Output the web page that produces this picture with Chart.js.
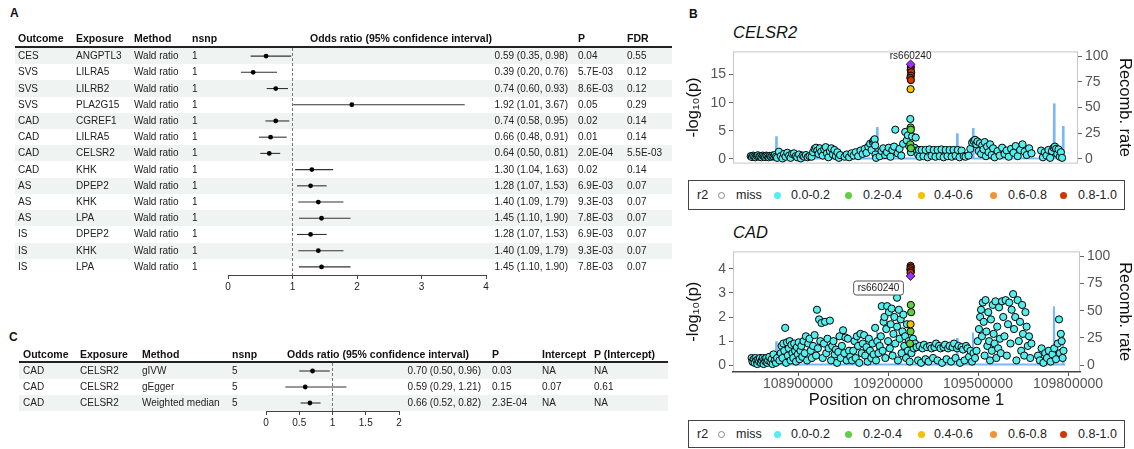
<!DOCTYPE html>
<html>
<head>
<meta charset="utf-8">
<title>MR results and regional association at CELSR2</title>
<script src="https://cdn.jsdelivr.net/npm/chart.js@4.4.1/dist/chart.umd.min.js"></script>
<style>
  html, body { margin: 0; padding: 0; background: #fff; }
  body { position: relative; width: 1134px; height: 449px; overflow: hidden;
         font-family: "Liberation Sans", Arial, sans-serif; color: #222; }
  canvas { position: absolute; z-index: 1; }
  .t { position: absolute; z-index: 2; font-size: 10px; line-height: 14px; white-space: nowrap; }
  .hd { font-weight: bold; font-size: 10.5px; color: #111; }
  .shade { position: absolute; z-index: 0; background: #eff3f2; }
  .rule { position: absolute; z-index: 2; height: 2px; background: #222; }
  .tag { position: absolute; font-weight: bold; font-size: 12px; line-height: 14px; color: #111; }
  .gene { position: absolute; font-style: italic; font-size: 16.5px; line-height: 20px; color: #111; }
  .legend { position: absolute; left: 688px; width: 437px; border: 1px solid #444; box-sizing: border-box; }
  .legend span { position: absolute; font-size: 12.5px; line-height: 14px; color: #222; white-space: nowrap; }
  .legend i { position: absolute; width: 7px; height: 7px; border-radius: 50%; box-sizing: border-box; }
</style>
</head>
<body>
<div class="tag" style="left:10px;top:6px">A</div>
<div class="tag" style="left:689px;top:7px">B</div>
<div class="tag" style="left:9px;top:330px">C</div>
<div class="gene" style="left:733px;top:22px">CELSR2</div>
<div class="gene" style="left:733px;top:222px">CAD</div>

<script>
// ---- Panel A: single-SNP Wald ratio estimates ----
const outcomeA  = ['CES', 'SVS', 'SVS', 'SVS', 'CAD', 'CAD', 'CAD', 'CAD', 'AS', 'AS', 'AS', 'IS', 'IS', 'IS'];
const exposureA = ['ANGPTL3', 'LILRA5', 'LILRB2', 'PLA2G15', 'CGREF1', 'LILRA5', 'CELSR2', 'KHK', 'DPEP2', 'KHK', 'LPA', 'DPEP2', 'KHK', 'LPA'];
const methodA   = outcomeA.map(() => 'Wald ratio');
const nsnpA     = outcomeA.map(() => 1);
const orA  = [0.59, 0.39, 0.74, 1.92, 0.74, 0.66, 0.64, 1.30, 1.28, 1.40, 1.45, 1.28, 1.40, 1.45];
const loA  = [0.35, 0.20, 0.60, 1.01, 0.58, 0.48, 0.50, 1.04, 1.07, 1.09, 1.10, 1.07, 1.09, 1.10];
const hiA  = [0.98, 0.76, 0.93, 3.67, 0.95, 0.91, 0.81, 1.63, 1.53, 1.79, 1.90, 1.53, 1.79, 1.90];
const pA   = ['0.04', '5.7E-03', '8.6E-03', '0.05', '0.02', '0.01', '2.0E-04', '0.02', '6.9E-03', '9.3E-03', '7.8E-03', '6.9E-03', '9.3E-03', '7.8E-03'];
const fdrA = ['0.55', '0.12', '0.12', '0.29', '0.14', '0.14', '5.5E-03', '0.14', '0.07', '0.07', '0.07', '0.07', '0.07', '0.07'];
const forestTicksA = [0, 1, 2, 3, 4];

// ---- Panel C: multi-SNP CELSR2 -> CAD ----
const outcomeC   = ['CAD', 'CAD', 'CAD'];
const exposureC  = ['CELSR2', 'CELSR2', 'CELSR2'];
const methodC    = ['gIVW', 'gEgger', 'Weighted median'];
const nsnpC      = [5, 5, 5];
const orC        = [0.70, 0.59, 0.66];
const loC        = [0.50, 0.29, 0.52];
const hiC        = [0.96, 1.21, 0.82];
const pC         = ['0.03', '0.15', '2.3E-04'];
const interceptC = ['NA', '0.07', 'NA'];
const pInterceptC = ['NA', '0.61', 'NA'];
const forestTicksC = [0, 0.5, 1, 1.5, 2];

// ---- Panel B: regional plots, positions in kb on chr1 ----
const posTicks = [108900, 109200, 109500, 109800];
const celsr2LogpTicks = [0, 5, 10, 15];
const cadLogpTicks = [0, 1, 2, 3, 4];
const recombTicks = [0, 25, 50, 75, 100];
const leadSnp = 'rs660240';
const leadPos = 109275;

const recombRate = [
  [108740, 0.4], [108826, 0.6], [108827, 22], [108829, 0.5], [109162, 0.8], [109163, 31], [109165, 0.6],
  [109429, 0.5], [109430, 25], [109432, 0.7], [109482, 0.6], [109483, 30], [109485, 0.5],
  [109752, 0.8], [109753, 54], [109755, 0.6], [109782, 0.7], [109783, 32], [109785, 0.5], [109790, 0.4]
];

const celsr2Lead = [[leadPos, 16.8]];
const celsr2Red = [[109276, 16.3], [109275, 15.8], [109277, 15.4], [109276, 14.8], [109274, 14.4], [109276, 14.0]];
const celsr2Yellow = [[109275, 12.4]];
const celsr2Green = [[109275, 5.6], [109276, 5.2], [109274, 2.6], [109276, 1.9]];
const celsr2Cyan = [
  [108742, 0.5], [108746, 0.35], [108750, 0.6], [108754, 0.45], [108758, 0.3], [108762, 0.55], [108766, 0.65],
  [108770, 0.4], [108774, 0.5], [108778, 0.3], [108782, 0.6], [108786, 0.45], [108790, 0.35], [108794, 0.6],
  [108798, 0.5], [108802, 0.3], [108806, 0.55], [108810, 0.4], [108814, 0.6], [108818, 0.45], [108822, 0.7], [108826, 0.4],
  [108830, 0.2], [108836, 1.3], [108842, 0.5], [108848, 0.1], [108853, 0.9], [108858, 0.4], [108864, 1.1], [108870, 0.6],
  [108875, 0.2], [108880, 0.9], [108886, 1.0], [108892, 0.5], [108897, 0.3], [108903, 0.8], [108909, 0.1], [108915, 0.6],
  [108920, 0.4], [108926, 0.7], [108932, 0.3], [108938, 0.5],
  [108945, 0.4], [108950, 1.2], [108955, 1.8], [108960, 2.0], [108964, 1.5], [108968, 0.9], [108972, 1.9], [108977, 1.3],
  [108982, 0.6], [108987, 1.7], [108992, 2.1], [108996, 1.0], [109001, 0.3], [109006, 1.4], [109011, 1.9], [109016, 0.8],
  [109021, 1.6], [109026, 0.5], [109031, 1.2], [109036, 0.2], [109040, 0.7],
  [109055, 0.4], [109062, 0.8], [109070, 0.3], [109078, 1.0], [109085, 0.6], [109092, 1.2], [109100, 0.5], [109108, 1.5],
  [109115, 0.9], [109122, 1.8], [109128, 1.1], [109134, 2.2], [109140, 2.7], [109145, 1.6], [109149, 3.0], [109152, 3.3],
  [109155, 3.5], [109157, 2.4], [109158, 0.8], [109160, 0.2],
  [109172, 0.5], [109178, 1.4], [109184, 1.9], [109190, 0.7], [109196, 1.2], [109202, 2.0], [109208, 0.4], [109214, 1.6],
  [109220, 2.2], [109224, 5.2], [109232, 1.0], [109238, 1.8], [109244, 0.6], [109250, 2.7], [109257, 4.8], [109262, 3.3],
  [109266, 4.2], [109270, 2.3], [109274, 7.1], [109276, 1.2], [109280, 4.0], [109292, 3.8], [109288, 2.0], [109296, 1.5],
  [109300, 0.8], [109303, 1.6],
  [109305, 0.4], [109312, 1.6], [109318, 0.5], [109325, 1.6], [109332, 0.3], [109338, 1.7], [109345, 0.6], [109352, 1.6],
  [109358, 0.4], [109365, 1.6], [109372, 0.5], [109378, 1.7], [109385, 0.3], [109392, 1.6], [109398, 0.5], [109405, 1.6],
  [109412, 0.4], [109418, 1.6], [109425, 0.6], [109432, 1.6], [109438, 0.3], [109445, 1.5], [109452, 0.5], [109458, 0.4],
  [109468, 0.6], [109474, 1.8], [109480, 2.9], [109485, 3.2], [109490, 3.4], [109494, 2.6], [109498, 3.1], [109502, 1.4],
  [109506, 2.8], [109510, 0.9], [109514, 2.4], [109518, 1.7], [109522, 3.0], [109526, 0.5], [109530, 2.2], [109535, 1.2],
  [109540, 2.6], [109545, 0.7], [109550, 1.9], [109555, 0.3],
  [109565, 1.4], [109572, 0.6], [109580, 2.0], [109588, 0.9], [109595, 1.5], [109602, 0.4], [109610, 1.8], [109618, 1.1],
  [109625, 2.3], [109632, 0.5], [109640, 1.6], [109648, 2.6], [109655, 1.3], [109662, 0.7], [109670, 1.9], [109678, 1.0],
  [109710, 1.5], [109716, 0.3], [109722, 1.2], [109728, 0.6], [109734, 1.6], [109740, 0.2], [109746, 1.4], [109752, 2.0],
  [109756, 2.2], [109760, 1.8], [109764, 0.9], [109768, 1.7], [109772, 0.4], [109776, 1.2], [109780, 0.2]
];

const cadLead = [[leadPos, 3.7]];
const cadRed = [[109275, 4.12], [109276, 4.05], [109274, 3.98], [109276, 3.9], [109275, 3.83]];
const cadYellow = [[109275, 1.7]];
const cadGreen = [[109276, 2.5], [109277, 2.2], [109275, 1.4], [109273, 0.9]];
const cadCyan = [
  [108745, 0.3], [108748, 0.15], [108752, 0.25], [108755, 0.1], [108758, 0.3], [108761, 0.2], [108764, 0.05], [108767, 0.25],
  [108770, 0.15], [108773, 0.3], [108776, 0.1], [108779, 0.2], [108782, 0.3], [108785, 0.05], [108788, 0.25], [108791, 0.15],
  [108794, 0.3], [108797, 0.1], [108800, 0.2], [108804, 0.35], [108808, 0.15], [108812, 0.25], [108815, 0.05], [108818, 0.45],
  [108822, 0.2], [108826, 0.1], [108830, 0.3],
  [108838, 0.2], [108842, 0.5], [108845, 0.8], [108848, 0.3], [108851, 0.9], [108854, 0.6], [108857, 1.55], [108860, 0.1],
  [108863, 0.95], [108866, 0.4], [108869, 0.7], [108872, 1.0], [108875, 0.2], [108878, 0.85], [108881, 0.5], [108884, 0.3],
  [108887, 0.9], [108890, 0.6], [108893, 0.15], [108896, 0.75], [108899, 0.45], [108902, 0.95], [108905, 0.25], [108908, 0.6],
  [108911, 0.8], [108914, 0.35],
  [108918, 1.0], [108922, 0.5], [108926, 1.2], [108930, 0.2], [108934, 0.9], [108938, 1.1], [108942, 0.6], [108946, 0.3],
  [108950, 0.8], [108955, 1.25], [108960, 0.4], [108963, 2.3], [108966, 0.7], [108970, 1.9], [108974, 1.0], [108978, 1.75],
  [108982, 0.3], [108986, 0.9], [108990, 1.8], [108994, 0.5], [108998, 1.1], [109002, 0.7], [109006, 1.85], [109010, 0.2],
  [109014, 0.8], [109018, 1.0], [109022, 0.45], [109026, 0.65], [109030, 0.1], [109034, 0.55], [109038, 1.2], [109042, 0.3],
  [109046, 0.8], [109050, 1.45], [109054, 0.5], [109058, 1.15], [109062, 0.2], [109066, 1.1], [109070, 0.6], [109074, 0.35],
  [109080, 0.2], [109084, 0.6], [109088, 1.0], [109092, 0.3], [109096, 1.2], [109100, 0.8], [109104, 0.1], [109108, 1.3],
  [109112, 0.5], [109116, 0.9], [109120, 1.25], [109124, 0.4], [109128, 0.75], [109132, 0.15], [109136, 1.1], [109140, 0.6],
  [109144, 0.3], [109148, 0.9], [109152, 0.45], [109157, 1.55], [109160, 0.2], [109164, 1.0], [109168, 0.5], [109172, 0.8],
  [109176, 1.2], [109179, 2.45], [109182, 0.6], [109185, 1.8], [109188, 2.0], [109191, 0.3], [109194, 1.5], [109197, 2.45],
  [109200, 1.0], [109203, 2.2], [109206, 0.7], [109209, 1.7], [109212, 2.35], [109215, 0.4], [109218, 1.3], [109221, 2.0],
  [109224, 0.9], [109230, 2.8], [109230, 1.6], [109233, 0.2], [109236, 2.3], [109239, 1.1], [109242, 1.9], [109245, 0.5],
  [109248, 1.4], [109251, 2.1], [109254, 0.8], [109257, 1.2], [109260, 0.3], [109263, 1.7], [109266, 0.6], [109269, 1.0],
  [109272, 0.15], [109278, 0.5], [109283, 1.1], [109286, 0.7], [109290, 0.9],
  [109295, 0.75], [109300, 0.2], [109305, 0.8], [109310, 0.1], [109315, 0.7], [109320, 0.85], [109325, 0.25], [109330, 0.75],
  [109335, 0.15], [109340, 0.8], [109345, 0.7], [109350, 0.3], [109355, 0.75], [109360, 0.9], [109365, 0.2], [109370, 0.8],
  [109375, 0.7], [109380, 0.1], [109385, 0.75], [109390, 0.85], [109395, 0.25], [109400, 0.7], [109405, 0.8], [109410, 0.15],
  [109415, 0.75], [109420, 0.9], [109425, 0.3], [109430, 0.7], [109435, 0.8], [109440, 0.1], [109445, 0.75], [109450, 0.65],
  [109455, 0.2], [109460, 0.8], [109465, 0.7], [109470, 0.35], [109475, 0.6], [109480, 0.15], [109485, 0.5], [109490, 0.3],
  [109495, 0.6], [109499, 1.0], [109503, 1.5], [109507, 2.0], [109510, 2.3], [109513, 1.2], [109516, 2.6], [109519, 1.8],
  [109522, 0.4], [109525, 2.7], [109528, 1.4], [109531, 0.8], [109534, 2.2], [109537, 1.0], [109540, 0.2], [109543, 1.9],
  [109546, 0.6], [109549, 2.5], [109552, 1.3], [109555, 0.9], [109558, 2.65], [109561, 0.3], [109564, 1.6], [109567, 0.7],
  [109570, 2.4], [109573, 1.1], [109576, 0.5],
  [109580, 2.65], [109584, 2.0], [109588, 1.2], [109592, 2.7], [109596, 0.4], [109600, 1.7], [109604, 2.6], [109608, 0.9],
  [109612, 2.3], [109617, 2.95], [109620, 1.5], [109624, 2.0], [109628, 0.2], [109632, 2.7], [109636, 1.0], [109640, 1.8],
  [109644, 0.6], [109647, 2.5], [109650, 1.3], [109654, 0.4], [109658, 2.2], [109662, 1.6], [109666, 0.8], [109670, 1.2],
  [109674, 0.3], [109678, 0.9],
  [109700, 0.4], [109706, 0.2], [109712, 0.7], [109718, 0.1], [109724, 0.5], [109730, 0.3], [109736, 0.6], [109742, 0.15],
  [109748, 0.45], [109754, 0.7], [109760, 0.25], [109766, 0.9], [109770, 1.9], [109773, 0.5], [109776, 1.3], [109779, 1.0],
  [109782, 0.3], [109785, 0.6]
];

// LD legend
const ldLabels = ['miss', '0.0-0.2', '0.2-0.4', '0.4-0.6', '0.6-0.8', '0.8-1.0'];
const ldColors = [null, '#55eeee', '#5fd040', '#f7c100', '#f39234', '#cd3700'];
const leadColor = '#9b30ff';

const FONT = '"Liberation Sans", Arial, sans-serif';
Chart.defaults.font.family = FONT;

function addDiv(cls, text, left, top) {
  const d = document.createElement('div');
  d.className = cls;
  if (text !== null) d.textContent = text;
  d.style.left = left + 'px';
  d.style.top = top + 'px';
  document.body.appendChild(d);
  return d;
}

function addCell(text, x, cy, bold, right) {
  const d = addDiv('t' + (bold ? ' hd' : ''), text, right ? x - 220 : x, cy - 7);
  if (right) { d.style.width = '220px'; d.style.textAlign = 'right'; }
}

function makeCanvas(x, y, w, h) {
  const cv = document.createElement('canvas');
  cv.width = w; cv.height = h;
  cv.style.left = x + 'px'; cv.style.top = y + 'px';
  document.body.appendChild(cv);
  return cv;
}

/**
 * Forest table: row shading + text cells in HTML, CI and estimates in Chart.js
 */
function drawForest(o) {
  const n = o.est.length;
  const cv = makeCanvas(o.x, o.y, o.w, o.h);

  const ciSets = o.est.map((_, i) => ({
    data: [{ x: o.lo[i], y: i }, { x: o.hi[i], y: i }],
    showLine: true, borderColor: '#333', borderWidth: 1.1, pointRadius: 0
  }));

  const chart = new Chart(cv, {
    type: 'scatter',
    data: {
      datasets: [
        { data: o.est.map((v, i) => ({ x: v, y: i })), pointStyle: 'circle', pointRadius: 2.4,
          backgroundColor: '#000', borderWidth: 0 },
        ...ciSets,
        { data: [{ x: 1, y: -0.5 }, { x: 1, y: n - 0.5 }], showLine: true, borderColor: '#777',
          borderWidth: 1, borderDash: [3, 2], pointRadius: 0 }
      ]
    },
    options: {
      responsive: false, animation: false, events: [],
      layout: { padding: { left: o.padL, right: o.padR, top: o.padT, bottom: 0 } },
      plugins: { legend: { display: false }, tooltip: { enabled: false } },
      scales: {
        x: {
          type: 'linear', min: o.min, max: o.max,
          afterBuildTicks: s => { s.ticks = o.ticks.map(v => ({ value: v })); },
          afterFit: s => { s.height = 20; },
          grid: { drawOnChartArea: false, drawTicks: true, tickLength: 4, color: '#444' },
          border: { display: true, color: '#444' },
          ticks: { color: '#222', font: { size: 10 }, padding: 2, maxRotation: 0, callback: v => String(v) }
        },
        y: { type: 'linear', display: false, reverse: true, min: -0.5, max: n - 0.5 }
      }
    }
  });

  const ys = chart.scales.y;
  const rowH = Math.abs(ys.getPixelForValue(1) - ys.getPixelForValue(0));
  for (let i = 0; i < n; i++) {
    const cy = o.y + ys.getPixelForValue(i);
    if (i % 2 === 0) {
      const s = addDiv('shade', null, o.shadeL, cy - rowH / 2);
      s.style.width = (o.shadeR - o.shadeL) + 'px';
      s.style.height = rowH + 'px';
    }
    o.cols.forEach(c => addCell(String(c.vals[i]), c.x, cy, false, c.right));
  }
  o.cols.forEach(c => { if (c.head) addCell(c.head, c.x, o.headY, true, false); });
  addCell('Odds ratio (95% confidence interval)', o.orHeadX, o.headY, true, false);
  const r = addDiv('rule', null, o.shadeL, o.ruleY - 1);
  r.style.width = (o.shadeR - o.shadeL) + 'px';
}

const orText = (est, lo, hi) => est.map((v, i) => `${v.toFixed(2)} (${lo[i].toFixed(2)}, ${hi[i].toFixed(2)})`);

drawForest({
  x: 0, y: 0, w: 680, h: 295, padL: 228, padR: 194, padT: 48,
  min: 0, max: 4, ticks: forestTicksA, est: orA, lo: loA, hi: hiA,
  shadeL: 15, shadeR: 672, headY: 38, ruleY: 47, orHeadX: 310,
  cols: [
    { x: 18, head: 'Outcome', vals: outcomeA },
    { x: 76, head: 'Exposure', vals: exposureA },
    { x: 134, head: 'Method', vals: methodA },
    { x: 192, head: 'nsnp', vals: nsnpA },
    { x: 568, right: true, vals: orText(orA, loA, hiA) },
    { x: 578, head: 'P', vals: pA },
    { x: 627, head: 'FDR', vals: fdrA }
  ]
});

drawForest({
  x: 0, y: 315, w: 680, h: 116, padL: 266, padR: 281, padT: 48,
  min: 0, max: 2, ticks: forestTicksC, est: orC, lo: loC, hi: hiC,
  shadeL: 19, shadeR: 668, headY: 354, ruleY: 362, orHeadX: 287,
  cols: [
    { x: 23, head: 'Outcome', vals: outcomeC },
    { x: 80, head: 'Exposure', vals: exposureC },
    { x: 142, head: 'Method', vals: methodC },
    { x: 232, head: 'nsnp', vals: nsnpC },
    { x: 481, right: true, vals: orText(orC, loC, hiC) },
    { x: 492, head: 'P', vals: pC },
    { x: 542, head: 'Intercept', vals: interceptC },
    { x: 594, head: 'P (Intercept)', vals: pInterceptC }
  ]
});

// light panel border, drawn before the axes so the x axis line sits on top
const panelBox = {
  id: 'panelBox',
  beforeDraw(chart) {
    const a = chart.chartArea, c = chart.ctx;
    c.save();
    c.strokeStyle = '#c6c6c6'; c.lineWidth = 1;
    c.strokeRect(a.left + 0.5, a.top + 0.5, a.width - 1, a.height - 1);
    c.restore();
  }
};

const leadLabel = {
  id: 'leadLabel',
  afterDatasetsDraw(chart, args, o) {
    const px = chart.scales.x.getPixelForValue(o.pos) + o.dx;
    const py = chart.scales.y.getPixelForValue(o.val) + o.dy;
    const c = chart.ctx;
    c.save();
    c.font = '10px ' + FONT;
    c.textAlign = 'center'; c.textBaseline = 'middle';
    if (o.boxed) {
      const tw = c.measureText(o.text).width;
      c.beginPath();
      c.roundRect(px - tw / 2 - 4, py - 7, tw + 8, 14, 2.5);
      c.fillStyle = '#fff'; c.fill();
      c.strokeStyle = '#555'; c.lineWidth = 1; c.stroke();
    }
    c.fillStyle = '#222';
    c.fillText(o.text, px, py);
    c.restore();
  }
};

function drawLocus(o) {
  const cv = makeCanvas(680, o.top, 454, o.h);
  const pts = a => a.map(p => ({ x: p[0], y: p[1] }));
  const snp = (data, color, extra) => Object.assign({
    data: pts(data), backgroundColor: color, borderColor: '#000', borderWidth: 1,
    pointRadius: 3.6, yAxisID: 'y'
  }, extra);

  new Chart(cv, {
    type: 'scatter',
    data: {
      datasets: [
        snp(o.lead, leadColor, { pointStyle: 'rectRot', pointRadius: 4.4, borderWidth: 0.8, order: 0 }),
        snp(o.red, ldColors[5], { order: 1 }),
        snp(o.yellow, ldColors[3], { order: 2 }),
        snp(o.green, ldColors[2], { order: 3 }),
        snp(o.cyan, ldColors[1], { order: 4 }),
        { data: pts(recombRate), yAxisID: 'y2', showLine: true, borderColor: 'rgba(100,170,245,0.85)',
          borderWidth: 2, pointRadius: 0, order: 5 }
      ]
    },
    options: {
      responsive: false, animation: false, events: [],
      layout: { padding: { left: 0, right: 0, top: o.padT, bottom: o.padB } },
      plugins: {
        legend: { display: false }, tooltip: { enabled: false },
        leadLabel: o.label
      },
      scales: {
        x: {
          type: 'linear', display: o.showX, min: o.xmin, max: o.xmax,
          afterBuildTicks: s => { s.ticks = posTicks.map(v => ({ value: v })); },
          afterFit: s => { s.height = o.showX ? 40 : 0; },
          grid: { drawOnChartArea: false, drawTicks: true, tickLength: 4, color: '#555' },
          border: { display: true, color: '#444', width: 1.5 },
          ticks: { color: '#555', font: { size: 14 }, padding: 0, maxRotation: 0, callback: v => String(v * 1000) },
          title: { display: true, text: 'Position on chromosome 1', color: '#111', font: { size: 16.5 },
                   padding: { top: 0, bottom: 2 } }
        },
        y: {
          type: 'linear', position: 'left', min: o.ymin, max: o.ymax,
          afterBuildTicks: s => { s.ticks = o.logpTicks.map(v => ({ value: v })); },
          afterFit: s => { s.width = 53; },
          grid: { drawOnChartArea: false, drawTicks: true, tickLength: 4, color: '#666' },
          border: { display: false },
          ticks: { color: '#555', font: { size: 14 }, padding: 3 },
          title: { display: true, text: '-log\u2081\u2080(p)', color: '#111', font: { size: 16.5 },
                   padding: { top: 4, bottom: 0 } }
        },
        y2: {
          type: 'linear', position: 'right', min: o.rmin, max: o.rmax,
          afterBuildTicks: s => { s.ticks = recombTicks.map(v => ({ value: v })); },
          afterFit: s => { s.width = o.rightW; },
          grid: { drawOnChartArea: false, drawTicks: true, tickLength: 4, color: '#666' },
          border: { display: false },
          ticks: { color: '#555', font: { size: 14 }, padding: 3 },
          title: { display: true, text: 'Recomb. rate', color: '#111', font: { size: 16.5 },
                   padding: { top: 0, bottom: 0 } }
        }
      }
    },
    plugins: [panelBox, leadLabel]
  });
}

drawLocus({
  top: 40, h: 135, padT: 7, padB: 7, showX: false, rightW: 56,
  xmin: 108683, xmax: 109833, ymin: -0.82, ymax: 19.1, rmin: -4.5, rmax: 104.5,
  logpTicks: celsr2LogpTicks,
  lead: celsr2Lead, red: celsr2Red, yellow: celsr2Yellow, green: celsr2Green, cyan: celsr2Cyan,
  label: { text: leadSnp, pos: leadPos, val: celsr2Lead[0][1], dx: 0, dy: -8, boxed: false }
});

drawLocus({
  top: 240, h: 172, padT: 8, padB: 0, showX: true, rightW: 54,
  xmin: 108683, xmax: 109840, ymin: -0.28, ymax: 4.72, rmin: -6.3, rmax: 104.5,
  logpTicks: cadLogpTicks,
  lead: cadLead, red: cadRed, yellow: cadYellow, green: cadGreen, cyan: cadCyan,
  label: { text: leadSnp, pos: leadPos, val: cadLead[0][1], dx: -32, dy: 12, boxed: true }
});

// LD legends (HTML)
const legendDotX = [32, 88, 159, 232, 304, 374];
const legendTextX = [47, 102, 174, 245, 319, 389];
function addLegend(top, h) {
  const box = addDiv('legend', null, 688, top);
  box.style.height = h + 'px';
  const mid = h / 2 - 1;
  const r2 = document.createElement('span');
  r2.textContent = 'r2';
  r2.style.left = '8px'; r2.style.top = (mid - 7) + 'px';
  box.appendChild(r2);
  ldLabels.forEach((lab, k) => {
    const dot = document.createElement('i');
    dot.style.left = (legendDotX[k] - 3.5) + 'px';
    dot.style.top = (mid - 3.5) + 'px';
    if (ldColors[k]) dot.style.background = ldColors[k];
    else dot.style.border = '1px solid #888';
    box.appendChild(dot);
    const s = document.createElement('span');
    s.textContent = lab;
    s.style.left = legendTextX[k] + 'px';
    s.style.top = (mid - 7) + 'px';
    box.appendChild(s);
  });
}
addLegend(180, 30);
addLegend(420, 28);
</script>
</body>
</html>
